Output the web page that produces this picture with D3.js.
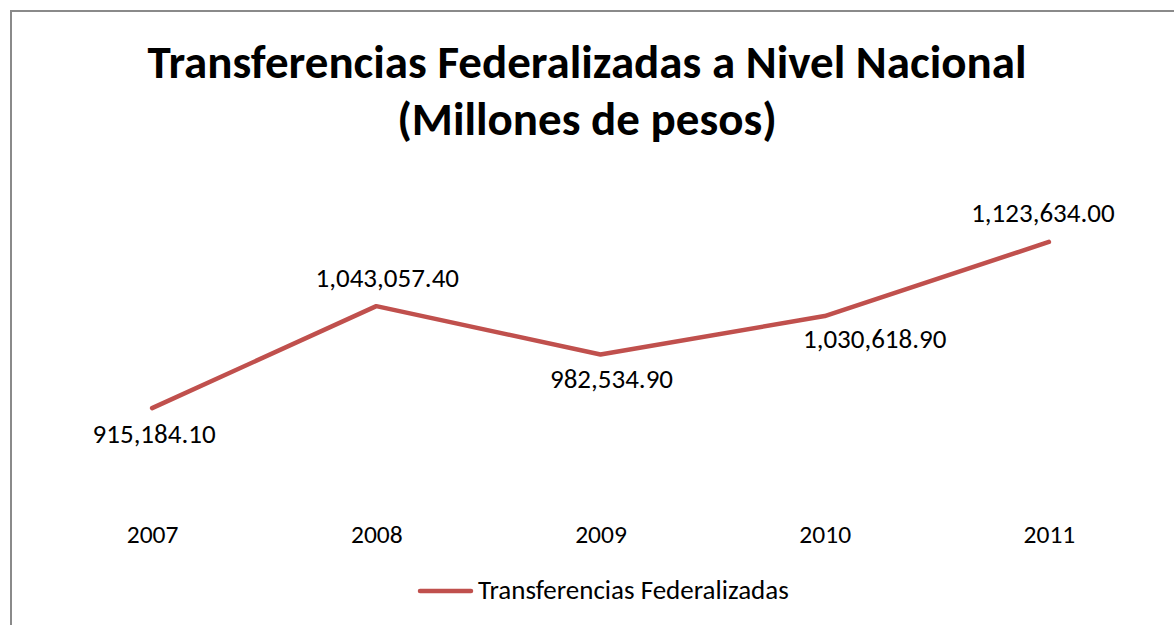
<!DOCTYPE html>
<html>
<head>
<meta charset="utf-8">
<script src="https://cdn.jsdelivr.net/npm/d3@7"></script>
<style>
  html, body { margin: 0; padding: 0; background: #fff; }
  svg { display: block; }
  text { font-family: Carlito, Calibri, Lato, "Open Sans", sans-serif; fill: #000; }
</style>
</head>
<body>
<svg id="chart" width="1174" height="625"></svg>
<script>
// Federal transfers by year (millions of pesos)
const years = ["2007", "2008", "2009", "2010", "2011"];
const transfers = [915184.10, 1043057.40, 982534.90, 1030618.90, 1123634.00];
const seriesName = "Transferencias Federalizadas";
const titleLines = ["Transferencias Federalizadas a Nivel Nacional", "(Millones de pesos)"];
const yDomain = [800000, 1200000];

// Per-label offsets from each point (dx, dy to the label baseline)
const labelOffsets = [[2, 35], [11, -19], [11, 34], [50, 32], [-6, -20]];

const W = 1174, H = 625;
const svg = d3.select("#chart");

// Outer chart frame
svg.append("rect")
  .attr("x", 11).attr("y", 11)
  .attr("width", W + 20).attr("height", H + 20)
  .attr("fill", "none").attr("stroke", "#8a8a8a").attr("stroke-width", 2);

// Title
const title = svg.append("text")
  .attr("text-anchor", "middle")
  .attr("font-weight", "bold")
  .attr("font-size", 47);
title.selectAll("tspan").data(titleLines).join("tspan")
  .attr("x", 587)
  .attr("y", (d, i) => 78 + i * 57)
  .text(d => d);

// Scales
const x = d3.scalePoint().domain(years).range([40, 1161]).padding(0.5);
const y = d3.scaleLinear().domain(yDomain).range([500, 181]);

// Category axis (labels only)
const xAxis = svg.append("g")
  .attr("transform", "translate(0,518)")
  .call(d3.axisBottom(x).tickSize(0).tickPadding(0));
xAxis.select(".domain").remove();
xAxis.selectAll("text")
  .attr("dy", 0).attr("y", 25)
  .attr("font-size", 25.5)
  .style("font-family", "Carlito, Calibri, Lato, sans-serif")
  .attr("fill", "#000");

// Series line
const data = years.map((yr, i) => ({ year: yr, value: transfers[i], off: labelOffsets[i] }));
const line = d3.line().x(d => x(d.year)).y(d => y(d.value));
svg.append("path")
  .datum(data)
  .attr("d", line)
  .attr("fill", "none")
  .attr("stroke", "#c0504d")
  .attr("stroke-width", 4.5)
  .attr("stroke-linecap", "round")
  .attr("stroke-linejoin", "round");

// Data labels
const fmt = d3.format(",.2f");
svg.append("g").selectAll("text").data(data).join("text")
  .attr("x", d => x(d.year) + d.off[0])
  .attr("y", d => y(d.value) + d.off[1])
  .attr("text-anchor", "middle")
  .attr("font-size", 27)
  .text(d => fmt(d.value));

// Legend
const legend = svg.append("g");
legend.append("line")
  .attr("x1", 420).attr("x2", 471)
  .attr("y1", 591).attr("y2", 591)
  .attr("stroke", "#c0504d").attr("stroke-width", 4.5)
  .attr("stroke-linecap", "round");
legend.append("text")
  .attr("x", 478).attr("y", 599)
  .attr("font-size", 27)
  .text(seriesName);
</script>
</body>
</html>
